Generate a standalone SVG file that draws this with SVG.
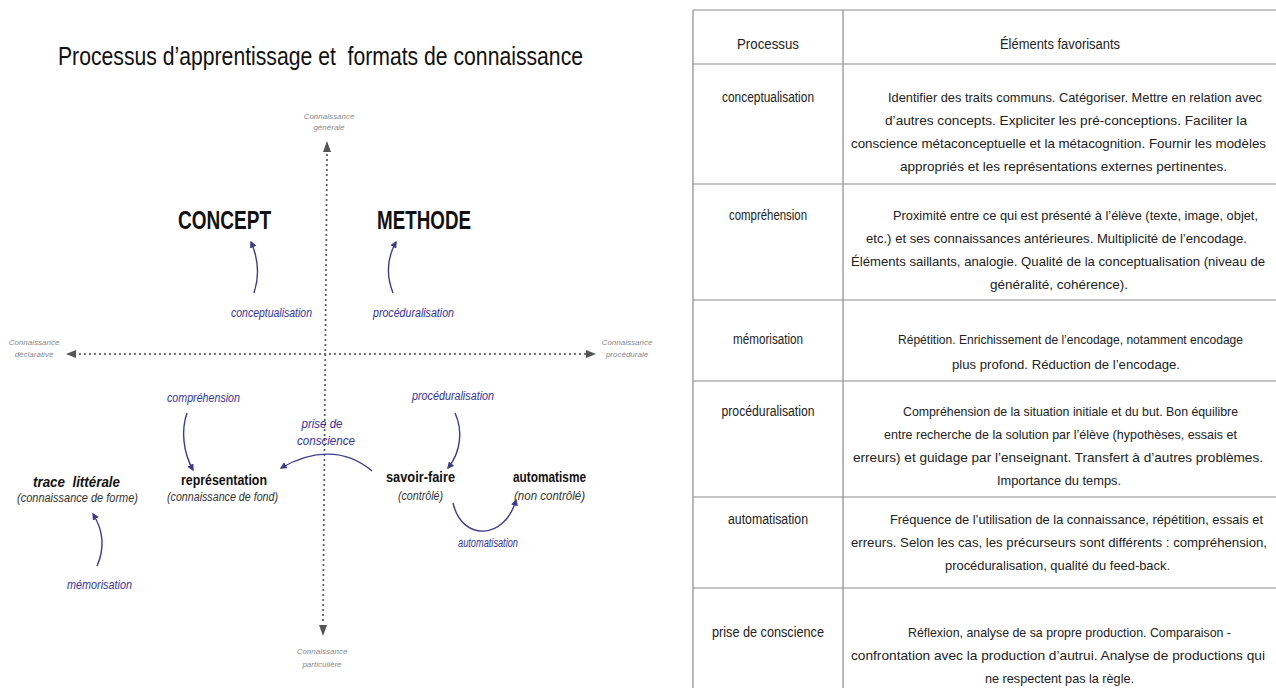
<svg xmlns="http://www.w3.org/2000/svg" width="1276" height="688" viewBox="0 0 1276 688">
<defs>
<style>
.title{font-family:"Liberation Sans",Arial,sans-serif;font-size:25px;fill:#111}
.big{font-family:"Liberation Sans",Arial,sans-serif;font-size:26px;font-weight:bold;fill:#111}
.node{font-family:"Liberation Sans",Arial,sans-serif;font-size:15px;font-weight:bold;fill:#111}
.sub{font-family:"Liberation Sans",Arial,sans-serif;font-size:12px;font-style:italic;fill:#333}
.lbl{font-family:"Liberation Sans",Arial,sans-serif;font-size:12.5px;font-style:italic;fill:#33339a}
.axl{font-family:"Liberation Sans",Arial,sans-serif;font-size:8px;font-style:italic;fill:#8a8a8a}
.axis{stroke:#555;stroke-width:2.2;stroke-linecap:round;stroke-dasharray:0 5;fill:none}
.arr{stroke:#3b3b8f;stroke-width:1.4;fill:none;marker-end:url(#ah)}
.grid{stroke:#8c8c8c;stroke-width:1.2;fill:none}
.th{font-family:"Liberation Sans",Arial,sans-serif;font-size:13px;fill:#222}
.tl{font-family:"Liberation Sans",Arial,sans-serif;font-size:14px;fill:#222;text-anchor:middle}
</style>
<marker id="ah" viewBox="0 0 10 10" refX="8" refY="5" markerWidth="7" markerHeight="7" orient="auto" markerUnits="userSpaceOnUse">
<path d="M0,0 L10,5 L0,10 z" fill="#3b3b8f"/>
</marker>
</defs>
<rect width="1276" height="688" fill="#fff"/>

<text class="title" x="58" y="65" textLength="525" lengthAdjust="spacingAndGlyphs" xml:space="preserve">Processus d’apprentissage et  formats de connaissance</text>

<g id="axes">
<path class="axis" d="M80,354 L586,354"/>
<path d="M66,354 L76,350 L76,358 z" fill="#555"/>
<path d="M596,354 L586,350 L586,358 z" fill="#555"/>
<path class="axis" d="M327,155 L323,622"/>
<path d="M327,141 L323,152 L331,152 z" fill="#555"/>
<path d="M323,636 L319,625 L327,625 z" fill="#555"/>
<text class="axl" x="329" y="119" text-anchor="middle">Connaissance</text>
<text class="axl" x="329" y="130" text-anchor="middle">générale</text>
<text class="axl" x="34" y="345" text-anchor="middle">Connaissance</text>
<text class="axl" x="34" y="357" text-anchor="middle">déclarative</text>
<text class="axl" x="627" y="345" text-anchor="middle">Connaissance</text>
<text class="axl" x="627" y="357" text-anchor="middle">procédurale</text>
<text class="axl" x="322" y="654" text-anchor="middle">Connaissance</text>
<text class="axl" x="322" y="667" text-anchor="middle">particulière</text>
</g>

<g id="concept"><text class="big" x="178" y="229" textLength="93" lengthAdjust="spacingAndGlyphs">CONCEPT</text></g>
<g id="methode"><text class="big" x="377" y="229" textLength="94" lengthAdjust="spacingAndGlyphs">METHODE</text></g>
<g id="trace">
<text class="node" x="33" y="487" font-style="italic" textLength="87" lengthAdjust="spacingAndGlyphs" xml:space="preserve">trace  littérale</text>
<text class="sub" x="17" y="502" textLength="121" lengthAdjust="spacingAndGlyphs">(connaissance de forme)</text>
</g>
<g id="representation">
<text class="node" x="181" y="485" textLength="86" lengthAdjust="spacingAndGlyphs">représentation</text>
<text class="sub" x="167" y="501" textLength="111" lengthAdjust="spacingAndGlyphs">(connaissance de fond)</text>
</g>
<g id="savoirfaire">
<text class="node" x="386" y="482" textLength="69" lengthAdjust="spacingAndGlyphs">savoir-faire</text>
<text class="sub" x="398" y="500" textLength="45" lengthAdjust="spacingAndGlyphs">(contrôlé)</text>
</g>
<g id="automatisme">
<text class="node" x="513" y="482" textLength="73" lengthAdjust="spacingAndGlyphs">automatisme</text>
<text class="sub" x="514" y="500" textLength="71" lengthAdjust="spacingAndGlyphs">(non contrôlé)</text>
</g>

<g id="connectors">
<path class="arr" d="M254,293 C260,275 258,258 251,242"/>
<path class="arr" d="M393,293 C386,275 387,258 396,242"/>
<path class="arr" d="M187,413 C181,430 183,452 193,470"/>
<path class="arr" d="M455,413 C463,430 461,452 448,468"/>
<path class="arr" d="M372,471 C345,448 312,450 281,468"/>
<path class="arr" d="M453,503 C462,542 505,540 516,500"/>
<path class="arr" d="M97,566 C105,548 103,530 93,514"/>
<text class="lbl" x="231" y="317" textLength="81" lengthAdjust="spacingAndGlyphs">conceptualisation</text>
<text class="lbl" x="373" y="317" textLength="81" lengthAdjust="spacingAndGlyphs">procéduralisation</text>
<text class="lbl" x="167" y="402" textLength="73" lengthAdjust="spacingAndGlyphs">compréhension</text>
<text class="lbl" x="412" y="400" textLength="82" lengthAdjust="spacingAndGlyphs">procéduralisation</text>
<text class="lbl" x="322" y="428" text-anchor="middle" textLength="41" lengthAdjust="spacingAndGlyphs">prise de</text>
<text class="lbl" x="326" y="445" text-anchor="middle" textLength="58" lengthAdjust="spacingAndGlyphs">conscience</text>
<text class="lbl" x="458" y="547" textLength="60" lengthAdjust="spacingAndGlyphs">automatisation</text>
<text class="lbl" x="67" y="589" textLength="65" lengthAdjust="spacingAndGlyphs">mémorisation</text>
</g>

<g id="table">
<path class="grid" d="M693,10 H1276 M693,10 V688 M843,10 V688 M693,64 H1276 M693,184 H1276 M693,300 H1276 M693,381 H1276 M693,497 H1276 M693,588 H1276"/>
<text class="tl" x="768" y="49" textLength="62" lengthAdjust="spacingAndGlyphs">Processus</text>
<text class="tl" x="1060" y="49" textLength="120" lengthAdjust="spacingAndGlyphs">Éléments favorisants</text>

<text class="tl" x="768" y="102" textLength="92" lengthAdjust="spacingAndGlyphs">conceptualisation</text>
<text class="th" x="888" y="102" textLength="374" lengthAdjust="spacingAndGlyphs">Identifier des traits communs. Catégoriser. Mettre en relation avec</text>
<text class="th" x="885" y="125" textLength="362" lengthAdjust="spacingAndGlyphs">d’autres concepts. Expliciter les pré-conceptions. Faciliter la</text>
<text class="th" x="851" y="148" textLength="415" lengthAdjust="spacingAndGlyphs">conscience métaconceptuelle et la métacognition. Fournir les modèles</text>
<text class="th" x="900" y="171" textLength="327" lengthAdjust="spacingAndGlyphs">appropriés et les représentations externes pertinentes.</text>

<text class="tl" x="768" y="220" textLength="78" lengthAdjust="spacingAndGlyphs">compréhension</text>
<text class="th" x="893" y="220" textLength="365" lengthAdjust="spacingAndGlyphs">Proximité entre ce qui est présenté à l’élève (texte, image, objet,</text>
<text class="th" x="866" y="243" textLength="381" lengthAdjust="spacingAndGlyphs">etc.) et ses connaissances antérieures. Multiplicité de l’encodage.</text>
<text class="th" x="851" y="266" textLength="414" lengthAdjust="spacingAndGlyphs">Éléments saillants, analogie. Qualité de la conceptualisation (niveau de</text>
<text class="th" x="990" y="289" textLength="138" lengthAdjust="spacingAndGlyphs">généralité, cohérence).</text>

<text class="tl" x="768" y="344" textLength="70" lengthAdjust="spacingAndGlyphs">mémorisation</text>
<text class="th" x="898" y="344" textLength="345" lengthAdjust="spacingAndGlyphs">Répétition. Enrichissement de l’encodage, notamment encodage</text>
<text class="th" x="952" y="369" textLength="228" lengthAdjust="spacingAndGlyphs">plus profond. Réduction de l’encodage.</text>

<text class="tl" x="768" y="416" textLength="93" lengthAdjust="spacingAndGlyphs">procéduralisation</text>
<text class="th" x="903" y="416" textLength="335" lengthAdjust="spacingAndGlyphs">Compréhension de la situation initiale et du but. Bon équilibre</text>
<text class="th" x="884" y="439" textLength="353" lengthAdjust="spacingAndGlyphs">entre recherche de la solution par l’élève (hypothèses, essais et</text>
<text class="th" x="853" y="462" textLength="410" lengthAdjust="spacingAndGlyphs">erreurs) et guidage par l’enseignant. Transfert à d’autres problèmes.</text>
<text class="th" x="997" y="485" textLength="124" lengthAdjust="spacingAndGlyphs">Importance du temps.</text>

<text class="tl" x="768" y="524" textLength="80" lengthAdjust="spacingAndGlyphs">automatisation</text>
<text class="th" x="890" y="524" textLength="373" lengthAdjust="spacingAndGlyphs">Fréquence de l’utilisation de la connaissance, répétition, essais et</text>
<text class="th" x="851" y="547" textLength="416" lengthAdjust="spacingAndGlyphs">erreurs. Selon les cas, les précurseurs sont différents : compréhension,</text>
<text class="th" x="945" y="570" textLength="225" lengthAdjust="spacingAndGlyphs">procéduralisation, qualité du feed-back.</text>

<text class="tl" x="768" y="637" textLength="112" lengthAdjust="spacingAndGlyphs">prise de conscience</text>
<text class="th" x="908" y="637" textLength="323" lengthAdjust="spacingAndGlyphs">Réflexion, analyse de sa propre production. Comparaison -</text>
<text class="th" x="851" y="660" textLength="414" lengthAdjust="spacingAndGlyphs">confrontation avec la production d’autrui. Analyse de productions qui</text>
<text class="th" x="985" y="683" textLength="149" lengthAdjust="spacingAndGlyphs">ne respectent pas la règle.</text>
</g>
</svg>
